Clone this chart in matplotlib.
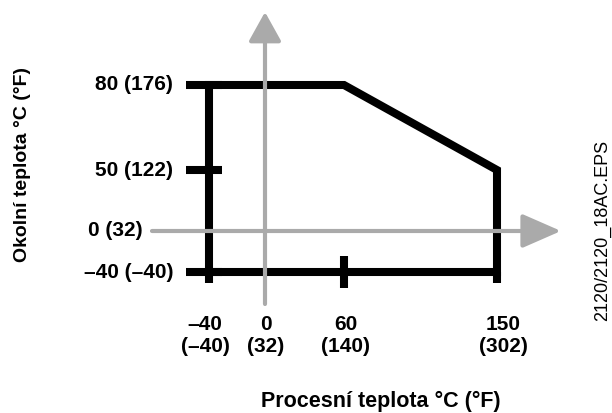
import numpy as np
import matplotlib
matplotlib.use("Agg")
import matplotlib.pyplot as plt
from matplotlib.path import Path

plt.rcParams['font.family'] = ['Liberation Sans', 'DejaVu Sans']

# ---- data ----
x_ticks = [-40, 0, 60, 150]
x_tick_labels = ["–40\n(–40)", "0\n(32)", "60\n(140)", "150\n(302)"]
y_ticks = [-40, 0, 50, 80]
y_tick_labels = ["–40 (–40)", "0 (32)", "50 (122)", "80 (176)"]
# operating envelope (process temp, ambient temp)
env_x = [-40, -40, 60, 150, 150, -40]
env_y = [-40, 80, 80, 50, -40, -40]
x_label = "Procesní teplota °C (°F)"
y_label = "Okolní teplota °C (°F)"
doc_id = "2120/2120_18AC.EPS"

W, H = 612, 413
# schematic (non-linear) axis placement, in pixels
x_px = [209, 265, 344, 497]
y_px = [H - 272, H - 231, H - 170, H - 85]


def make_scale(d, p):
    d = np.asarray(d, float)
    p = np.asarray(p, float)

    def interp(v, a, b):
        v = np.asarray(v, float)
        out = np.interp(v, a, b)
        out = np.where(v < a[0], b[0] + (v - a[0]) * (b[1] - b[0]) / (a[1] - a[0]), out)
        out = np.where(v > a[-1], b[-1] + (v - a[-1]) * (b[-1] - b[-2]) / (a[-1] - a[-2]), out)
        return out

    return (lambda v: interp(v, d, p)), (lambda v: interp(v, p, d))


fx, ix = make_scale(x_ticks, x_px)
fy, iy = make_scale(y_ticks, y_px)

fig = plt.figure(figsize=(W / 100, H / 100), dpi=100)
ax = fig.add_axes([0, 0, 1, 1])
ax.set_xscale('function', functions=(fx, ix))
ax.set_yscale('function', functions=(fy, iy))
ax.set_xlim(float(ix(0)), float(ix(W)))
ax.set_ylim(float(iy(0)), float(iy(H)))
ax.axis('off')

LW = 5.8
# envelope
ax.plot(env_x, env_y, color='black', lw=LW, solid_joinstyle='miter',
        solid_capstyle='butt', zorder=2)

# left stubs (horizontal, extending mostly left)
left_stub = Path([(-23, 0), (13, 0)], [Path.MOVETO, Path.LINETO])
ax.plot([x_ticks[0]] * 3, [80, 50, -40], linestyle='none', marker=left_stub,
        markersize=33, markeredgewidth=LW, markeredgecolor='black', zorder=2)
# downward stubs at the bottom corners
down_stub = Path([(0, 0), (0, -11)], [Path.MOVETO, Path.LINETO])
ax.plot([-40, 150], [-40, -40], linestyle='none', marker=down_stub,
        markersize=16, markeredgewidth=LW, markeredgecolor='black', zorder=2)
# tick at 60
ax.plot([60], [-40], linestyle='none', marker='|', markersize=23,
        markeredgewidth=LW, markeredgecolor='black', zorder=2)

# grey axes with arrows
gray = '#aaaaaa'
ap = dict(arrowstyle='-|>,head_length=24,head_width=10.5', color=gray, lw=3,
          mutation_scale=1, shrinkA=0, shrinkB=0)
ax.annotate('', xy=(561 / W, 0), xytext=(152 / W, 0),
            xycoords=('axes fraction', 'data'), textcoords=('axes fraction', 'data'),
            arrowprops=ap, zorder=3)
ap2 = dict(ap)
ap2['arrowstyle'] = '-|>,head_length=18,head_width=10'
ax.annotate('', xy=(0, 1 - 12 / H), xytext=(0, 1 - 304 / H),
            xycoords=('data', 'axes fraction'), textcoords=('data', 'axes fraction'),
            arrowprops=ap2, zorder=3)

FS = 15
# y tick labels
y_label_right = [173, 143, 173, 173]
for yv, lab, xr in zip(y_ticks, y_tick_labels, y_label_right):
    ax.text(xr / W, yv, lab, transform=ax.get_yaxis_transform(),
            ha='right', va='center', fontsize=FS, fontweight='bold')

# x tick labels
x_label_dx = [-4, 1, 2, 6]
for xv, lab, dx in zip(x_ticks, x_tick_labels, x_label_dx):
    ax.annotate(lab, xy=(xv, 1 - 335 / H), xycoords=ax.get_xaxis_transform(),
                xytext=(dx * 0.72, 0), textcoords='offset points',
                ha='center', va='center', fontsize=FS, fontweight='bold',
                linespacing=1.2, multialignment='center')

# axis titles
ax.text(381 / W, 1 - 401 / H, x_label, transform=ax.transAxes, ha='center',
        va='center', fontsize=15.5, fontweight='bold')
ax.text(23 / W, 1 - 164 / H, y_label, transform=ax.transAxes, ha='center',
        va='center', rotation=90, fontsize=14, fontweight='bold')
ax.text(603 / W, 1 - 230 / H, doc_id, transform=ax.transAxes, ha='center',
        va='center', rotation=90, fontsize=13)

fig.savefig('out.png', dpi=100)
